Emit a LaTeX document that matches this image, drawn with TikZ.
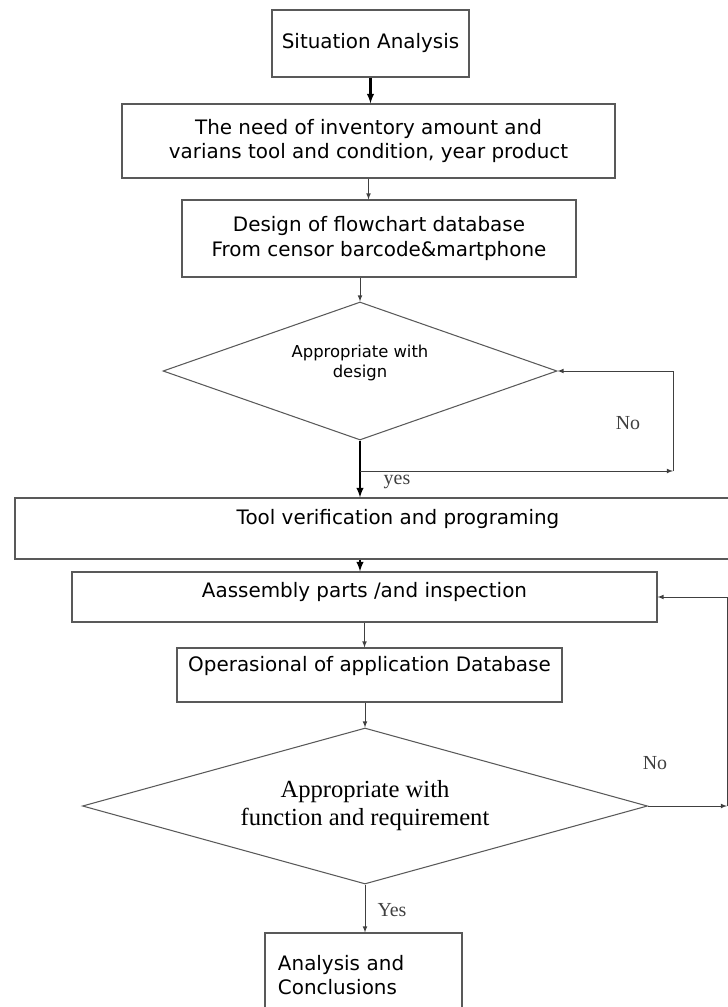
\documentclass[tikz,border=0pt]{standalone}
\usepackage{fontspec}
\newfontfamily\sansf{DejaVu Sans}
\newfontfamily\seriff{Liberation Serif}
\usetikzlibrary{shapes.geometric}
\tikzset{
  procbox/.style={rectangle, draw=black!65, line width=0.9pt, inner sep=0pt, align=center, font=\sansf\fontsize{17}{21}\selectfont},
  decbox/.style={diamond, draw=black!65, line width=0.9pt, inner sep=0pt, align=center},
  flow/.style={->, >=latex, black!75, line width=0.8pt},
  mainflow/.style={->, >=latex, black, line width=1.8pt},
  lbl/.style={font=\seriff\fontsize{17}{20}\selectfont, text=black!75}
}

\begin{document}
\begin{tikzpicture}[x=0.03cm, y=-0.03cm]
        \useasboundingbox (0, 0) rectangle (728, 1007);
        \clip (0, 0) rectangle (728, 1007);

        \draw (370.5, 43.5) node(sa)[procbox, minimum width=5.91cm, minimum height=2.01cm]{Situation Analysis};
        \draw (368.5, 141) node(need)[procbox, minimum width=14.79cm, minimum height=2.22cm]{The need of inventory amount and\\varians tool and condition, year product};
        \draw (379, 238.5) node(des)[procbox, minimum width=11.82cm, minimum height=2.31cm]{Design of flowchart database\\From censor barcode\&martphone};
        \draw (360, 371) node(ok1)[decbox, aspect=2.86, minimum width=11.82cm, minimum height=4.14cm, text depth=16pt, font=\sansf\fontsize{14}{17}\selectfont]{Appropriate with\\design};
        \draw (398, 528.5) node(tv)[procbox, minimum width=22.98cm, minimum height=1.83cm, text depth=19pt]{Tool verification and programing};
        \draw (364.5, 597) node(asm)[procbox, minimum width=17.55cm, minimum height=1.5cm, text depth=12.6pt]{Aassembly parts /and inspection};
        \draw (369.5, 675) node(op)[procbox, minimum width=11.55cm, minimum height=1.62cm, text depth=19pt]{Operasional of application Database};
        \draw (365, 806) node(ok2)[decbox, aspect=3.62, minimum width=16.95cm, minimum height=4.68cm, font=\seriff\fontsize{21}{24}\selectfont]{Appropriate with\\function and requirement};
        \draw (363.5, 975) node(con)[procbox, minimum width=5.91cm, minimum height=2.52cm, inner xsep=0.39cm, text width=5.13cm, align=left]{Analysis and\\Conclusions};

        \coordinate (lp1) at (ok1.south |- 0, 471);
        \coordinate (lp2) at (673, 471);
        \coordinate (rt) at (727, 806);

        \draw[mainflow] (sa.south) -- (sa.south |- need.north);
        \draw[flow] (need.south) -- (need.south |- des.north);
        \draw[flow] (ok1.north |- des.south) -- (ok1.north);
        \draw[mainflow] (ok1.south) -- (ok1.south |- tv.north);
        \draw[flow] (lp1) -- (lp2);
        \draw[flow] (lp2) |- (ok1.east);
        \draw[mainflow] (ok1.south |- tv.south) -- (ok1.south |- asm.north);
        \draw[flow] (asm.south) -- (asm.south |- op.north);
        \draw[flow] (ok2.north |- op.south) -- (ok2.north);
        \draw[flow] (ok2.east) -- (rt);
        \draw[flow] (rt) |- (asm.east);
        \draw[flow] (ok2.south) -- (ok2.south |- con.north);

        \node(no1)[lbl] at (628, 423) {No};
        \node(yes1)[lbl] at (397, 482) {yes};
        \node(no2)[lbl] at (655, 763) {No};
        \node(yes2)[lbl] at (392, 910) {Yes};
\end{tikzpicture}
\end{document}
